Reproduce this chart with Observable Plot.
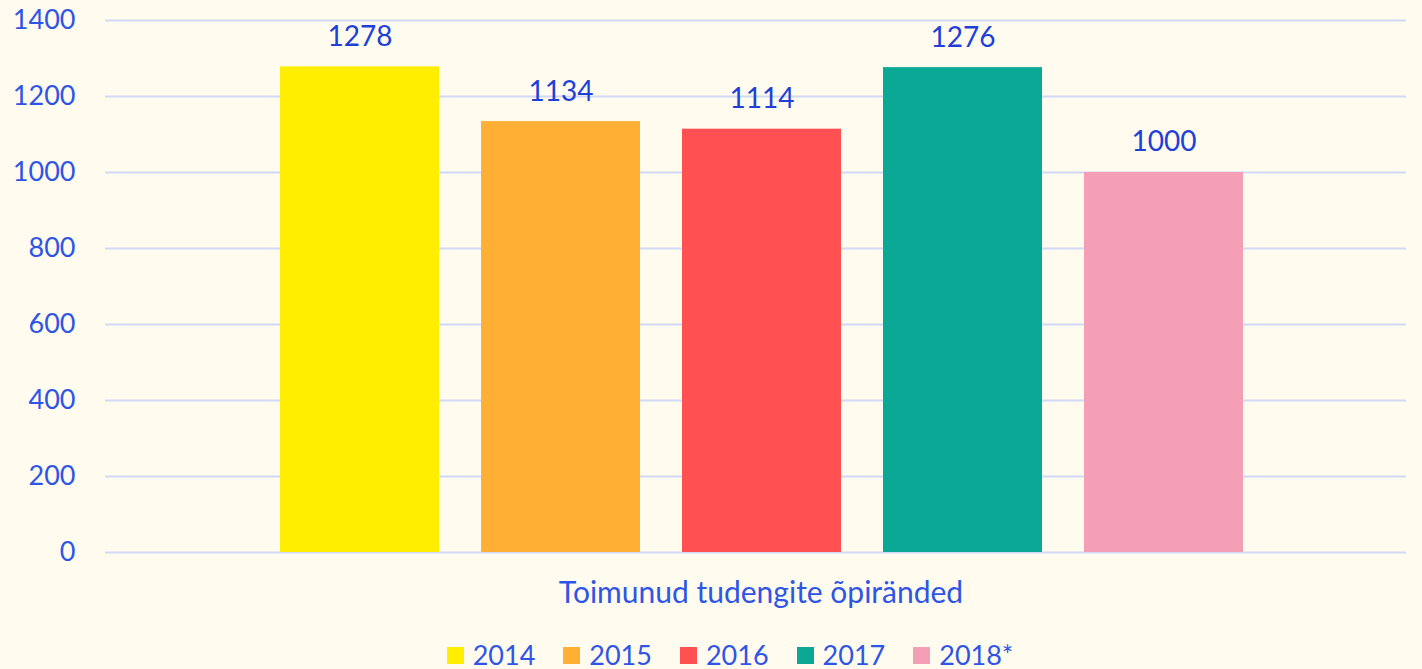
<!DOCTYPE html>
<html><head><meta charset="utf-8">
<script src="https://cdn.jsdelivr.net/npm/d3@7"></script>
<script src="https://cdn.jsdelivr.net/npm/@observablehq/plot@0.6"></script>
<style>
html,body{margin:0;padding:0;background:#FFFBEF;}
body{width:1422px;height:669px;overflow:hidden;font-family:Lato,sans-serif;}
#chart svg{display:block;}
#legend{display:flex;justify-content:center;gap:28px;margin-left:38px;margin-top:29px;font-size:27px;line-height:32px;color:#2E55E6;}
#legend span.item{display:flex;align-items:center;gap:9px;}
#legend span.sw{display:inline-block;width:17px;height:17px;}
</style></head>
<body>
<div id="chart"></div>
<div id="legend"></div>
<script>
const years = ["2014", "2015", "2016", "2017", "2018*"];
const values = [1278, 1134, 1114, 1276, 1000];
const colors = ["#FFEE00", "#FFAF33", "#FF5052", "#0BA896", "#F59FB7"];
const yTicks = [0, 200, 400, 600, 800, 1000, 1200, 1400];
const categoryLabel = "Toimunud tudengite õpiränded";

const data = years.map((y, i) => ({year: y, value: values[i]}));

const plot = Plot.plot({
  width: 1422,
  height: 610,
  marginTop: 20,
  marginBottom: 58,
  marginLeft: 105,
  marginRight: 16,
  style: {background: "transparent", fontFamily: "Lato, sans-serif", fontSize: "27px", color: "#2E55E6", overflow: "visible"},
  x: {domain: years, range: [236.7, 1286.5], padding: 0.21, axis: null},
  y: {domain: [0, 1400], ticks: yTicks, label: null},
  color: {domain: years, range: colors},
  marks: [
    Plot.ruleY(yTicks, {stroke: "#CFDAF7", strokeWidth: 2}),
    Plot.axisY({ticks: yTicks, tickSize: 0, tickPadding: 30, tickFormat: d3.format("d"), fill: "#2E55E6", fontSize: 27, label: null}),
    Plot.barY(data, {x: "year", y: "value", fill: "year"}),
    Plot.text(data, {x: "year", y: "value", text: d => String(d.value), dy: -30, fill: "#1E3FD8", fontSize: 28}),
    Plot.text([categoryLabel], {frameAnchor: "bottom", text: d => d, dy: 50, dx: 5, fill: "#2E55E6", fontSize: 30})
  ]
});
document.getElementById("chart").appendChild(plot);

const legend = document.getElementById("legend");
years.forEach((y, i) => {
  const item = document.createElement("span");
  item.className = "item";
  const sw = document.createElement("span");
  sw.className = "sw";
  sw.style.background = colors[i];
  item.appendChild(sw);
  item.appendChild(document.createTextNode(y));
  legend.appendChild(item);
});
</script>
</body></html>
